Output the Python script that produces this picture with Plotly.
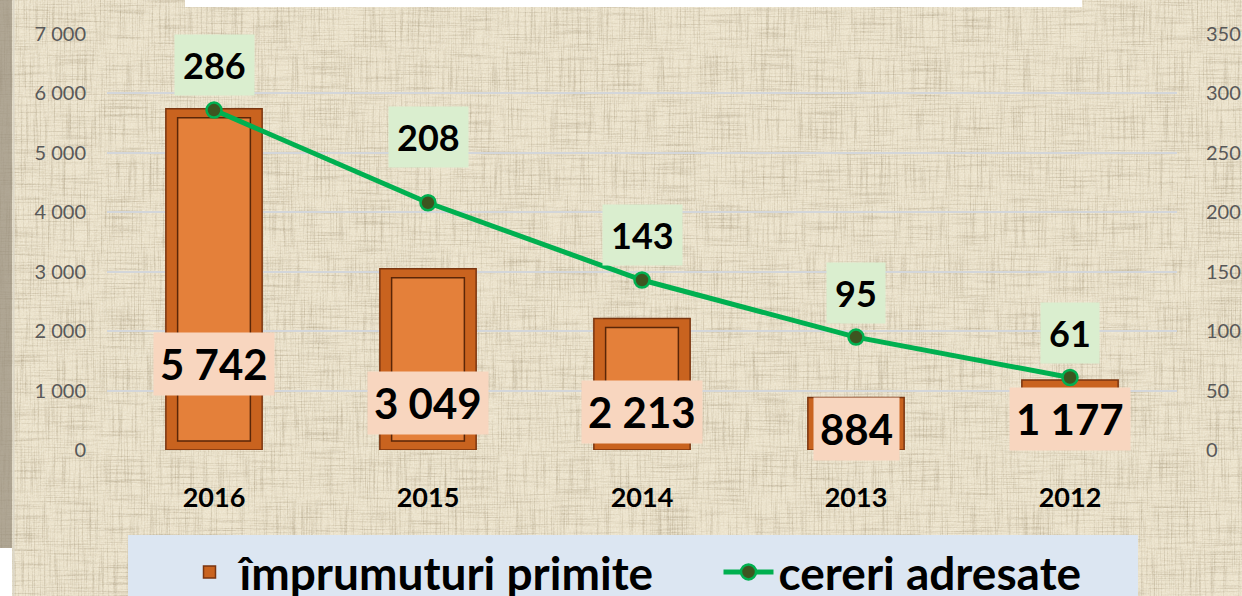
import base64
import plotly.graph_objects as go

# ---------------- data ----------------
years = ["2016", "2015", "2014", "2013", "2012"]
loans_received = [5742, 3049, 2213, 884, 1177]     # împrumuturi primite (left axis)
requests_sent = [286, 208, 143, 95, 61]            # cereri adresate (right axis)
left_ticks = [0, 1000, 2000, 3000, 4000, 5000, 6000, 7000]
right_ticks = [0, 50, 100, 150, 200, 250, 300, 350]

# ---------------- style ----------------
W, H = 1242, 596
ML, MR, MT, MB = 107, 65, 34, 146
PW, PH = W - ML - MR, H - MT - MB
FONT = "Lato"
bar_label_lift_px = [86, 47, 38, 21, 31]
line_label_lift_px = [45, 66, 45, 44, 45]
bar_inset_px = 9

def px_to_paper_x(px):
    return (px - ML) / PW

def px_to_paper_y(py):
    return (H - MB - py) / PH

# linen texture background as SVG
svg = f'''<svg xmlns="http://www.w3.org/2000/svg" width="{W}" height="{H}" viewBox="0 0 {W} {H}">
<defs>
<filter id="fh" x="0" y="0" width="100%" height="100%" color-interpolation-filters="sRGB">
<feTurbulence type="fractalNoise" baseFrequency="0.02 0.7" numOctaves="2" seed="4"/>
<feColorMatrix type="matrix" values="0 0 0 0 0.55 0 0 0 0 0.49 0 0 0 0 0.37 2.0 0 0 0 -0.95"/>
</filter>
<filter id="fv" x="0" y="0" width="100%" height="100%" color-interpolation-filters="sRGB">
<feTurbulence type="fractalNoise" baseFrequency="0.7 0.02" numOctaves="2" seed="11"/>
<feColorMatrix type="matrix" values="0 0 0 0 0.55 0 0 0 0 0.49 0 0 0 0 0.37 2.0 0 0 0 -0.95"/>
</filter>
<filter id="fw" x="0" y="0" width="100%" height="100%" color-interpolation-filters="sRGB">
<feTurbulence type="fractalNoise" baseFrequency="0.6 0.6" numOctaves="1" seed="2"/>
<feColorMatrix type="matrix" values="0 0 0 0 1 0 0 0 0 0.99 0 0 0 0 0.95 2.0 0 0 0 -0.8"/>
</filter>
</defs>
<rect width="{W}" height="{H}" fill="#EBE2CB"/>
<rect width="{W}" height="{H}" filter="url(#fh)" opacity="0.4"/>
<rect width="{W}" height="{H}" filter="url(#fv)" opacity="0.4"/>
<rect width="{W}" height="{H}" filter="url(#fw)" opacity="0.4"/>
</svg>'''
svg_uri = "data:image/svg+xml;base64," + base64.b64encode(svg.encode()).decode()

fig = go.Figure()

# outer bar (bevel frame)
fig.add_trace(go.Bar(
    x=years, y=loans_received, name="împrumuturi primite",
    width=0.45, marker=dict(color="#C9631F", line=dict(color="#7A3510", width=1.5)),
    yaxis="y", hoverinfo="skip", legendwidth=474,
))
# inner panel of bar
inset = bar_inset_px / PH * 7000
fig.add_trace(go.Bar(
    x=years, y=[max(v - 2 * inset, 0) for v in loans_received], base=inset,
    width=0.34, marker=dict(color="#E4803A", line=dict(color="#5A2608", width=1.5)),
    yaxis="y", showlegend=False, hoverinfo="skip",
))
# line
fig.add_trace(go.Scatter(
    x=years, y=requests_sent, name="cereri adresate", mode="lines+markers",
    line=dict(color="#00B050", width=5),
    marker=dict(size=15, color="#3D5520", line=dict(color="#00B050", width=2.5)),
    yaxis="y2",
))

annotations = []
for i, (v, lift) in enumerate(zip(loans_received, bar_label_lift_px)):
    annotations.append(dict(
        x=i, y=0, xref="x", yref="y", yshift=lift, showarrow=False,
        text=f"{v:,}".replace(",", " "),
        font=dict(family=FONT, size=42, color="#000000", weight="bold"),
        bgcolor="#F8D6BF", borderpad=6,
    ))
for i, (v, lift) in enumerate(zip(requests_sent, line_label_lift_px)):
    annotations.append(dict(
        x=i, y=v, xref="x", yref="y2", yshift=lift, showarrow=False,
        text=str(v),
        font=dict(family=FONT, size=36, color="#000000", weight="bold"),
        bgcolor="#DAEECF", borderpad=8,
    ))

shapes = [
    # legend panel
    dict(type="rect", xref="paper", yref="paper", layer="below",
         x0=px_to_paper_x(128), x1=px_to_paper_x(1138),
         y0=px_to_paper_y(600), y1=px_to_paper_y(535),
         fillcolor="#DCE6F2", line=dict(width=0)),
    # top white title box edge
    dict(type="rect", xref="paper", yref="paper",
         x0=px_to_paper_x(185), x1=px_to_paper_x(1082),
         y0=px_to_paper_y(7), y1=px_to_paper_y(-5),
         fillcolor="#FFFFFF", line=dict(width=0)),
    # left frame strip
    dict(type="rect", xref="paper", yref="paper",
         x0=px_to_paper_x(-1), x1=px_to_paper_x(12),
         y0=px_to_paper_y(548), y1=px_to_paper_y(-5),
         fillcolor="rgba(150,140,122,0.7)", line=dict(width=0)),
    dict(type="rect", xref="paper", yref="paper",
         x0=px_to_paper_x(-1), x1=px_to_paper_x(12),
         y0=px_to_paper_y(600), y1=px_to_paper_y(548),
         fillcolor="#FFFFFF", line=dict(width=0)),
    dict(type="line", xref="paper", yref="paper",
         x0=px_to_paper_x(13.5), x1=px_to_paper_x(13.5),
         y0=px_to_paper_y(600), y1=px_to_paper_y(-5),
         line=dict(color="rgba(220,214,200,0.9)", width=2)),
]

fig.update_layout(
    width=W, height=H, autosize=False,
    margin=dict(l=ML, r=MR, t=MT, b=MB, autoexpand=False),
    paper_bgcolor="rgba(0,0,0,0)", plot_bgcolor="rgba(0,0,0,0)",
    barmode="overlay",
    separators=", ",
    font=dict(family=FONT, color="#595959"),
    images=[dict(source=svg_uri, xref="paper", yref="paper",
                 x=px_to_paper_x(0), y=px_to_paper_y(0),
                 sizex=W / PW, sizey=H / PH, sizing="stretch",
                 xanchor="left", yanchor="top", layer="below")],
    xaxis=dict(
        type="category", categoryorder="array", categoryarray=years,
        range=[-0.5, len(years) - 0.5],
        showgrid=False, showline=False, zeroline=False, ticks="",
        tickfont=dict(family=FONT, size=27, color="#000000", weight="bold"),
        ticklabelstandoff=29,
    ),
    yaxis=dict(
        range=[0, 7000], tickvals=left_ticks, tickformat=",d",
        showgrid=True, gridcolor="#D3D6DA", gridwidth=2,
        zeroline=False, showline=False, ticks="",
        tickfont=dict(family=FONT, size=20, color="#595959"),
        ticklabelstandoff=20,
    ),
    yaxis2=dict(
        range=[0, 350], tickvals=right_ticks, overlaying="y", side="right",
        showgrid=False, zeroline=False, showline=False, ticks="",
        tickfont=dict(family=FONT, size=20, color="#595959"),
        ticklabelstandoff=28,
    ),
    legend=dict(
        orientation="h", xref="container", yref="container",
        x=633 / W, xanchor="center",
        y=1 - 572 / H, yanchor="middle",
        bgcolor="rgba(0,0,0,0)",
        font=dict(family=FONT, size=46, color="#000000", weight="bold"),
        itemwidth=50, traceorder="normal",
    ),
    annotations=annotations,
    shapes=shapes,
)

fig.write_html("out.html", config={"displayModeBar": False},
               post_script="document.body.style.margin='0';")
